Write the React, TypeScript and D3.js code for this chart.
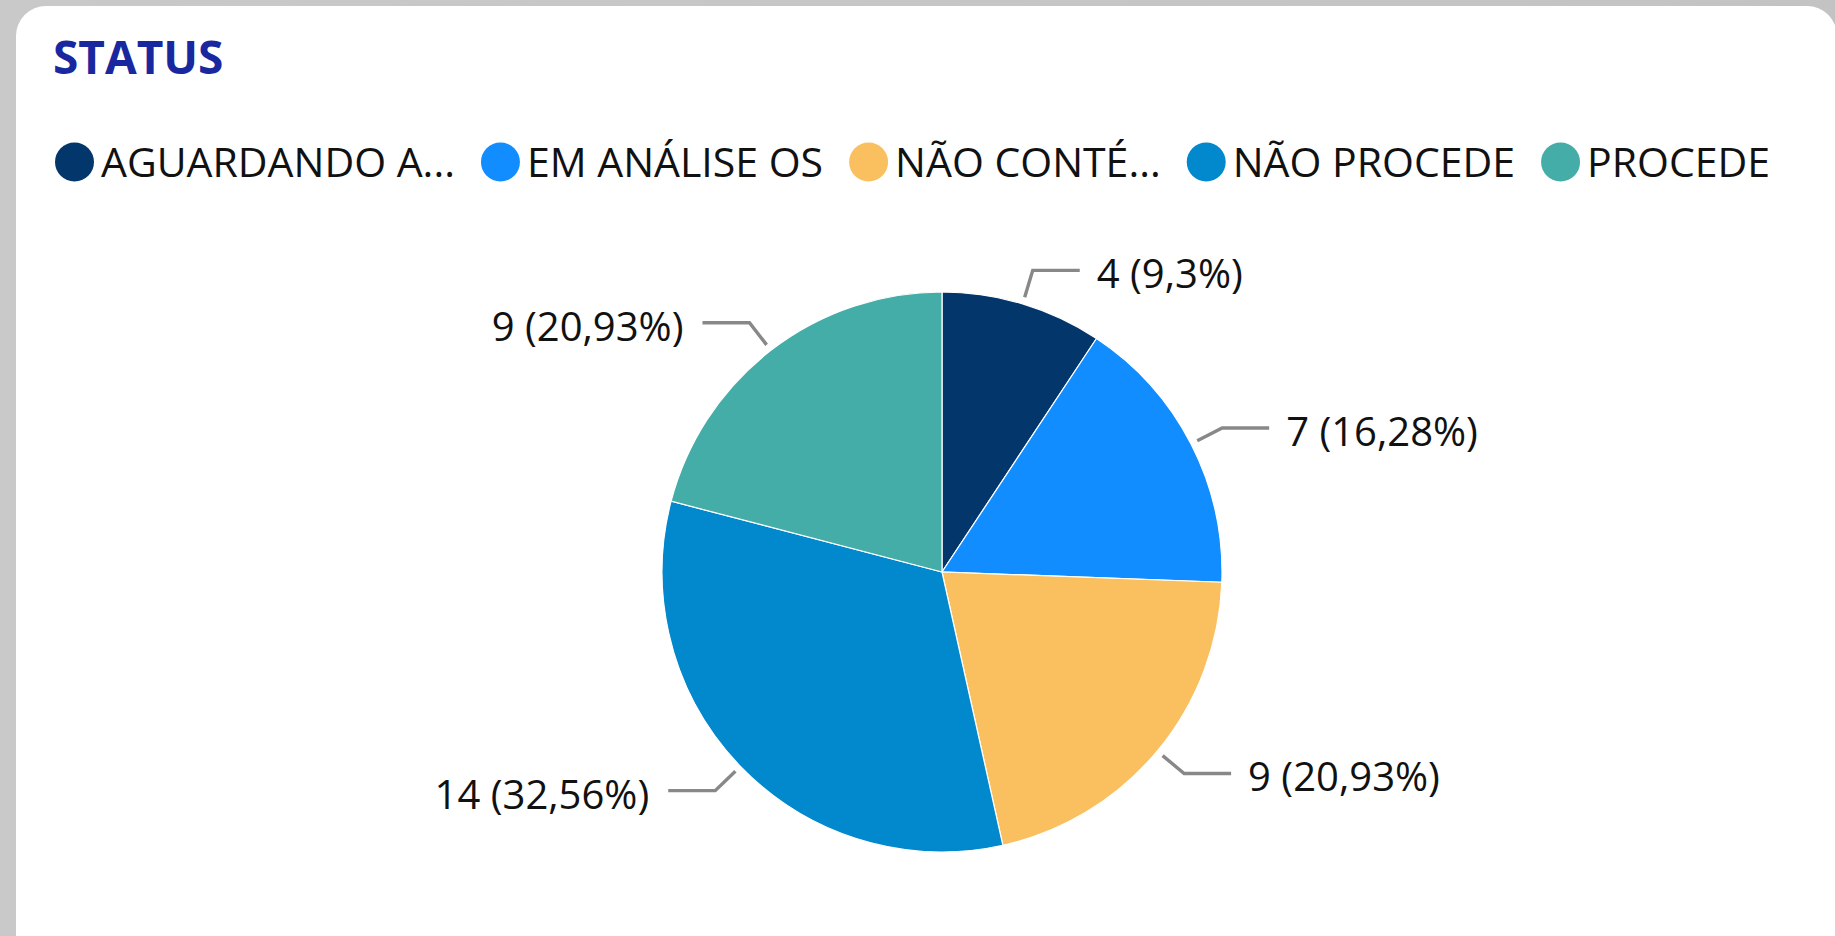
import React, { useEffect, useRef } from "react";
import * as d3 from "d3";

const W = 1835;
const H = 936;

const title = "STATUS";
const categories = ["AGUARDANDO A...", "EM ANÁLISE OS", "NÃO CONTÉ...", "NÃO PROCEDE", "PROCEDE"];
const values = [4, 7, 9, 14, 9];
const colors = ["#03366B", "#118DFF", "#FAC05F", "#0288CD", "#45ADA7"];

const FONT = "'Open Sans', 'Noto Sans', sans-serif";

export default function App() {
  const ref = useRef<SVGSVGElement | null>(null);

  useEffect(() => {
    const svg = d3.select(ref.current);
    svg.selectAll("*").remove();

    const defs = svg.append("defs");
    const g1 = defs.append("linearGradient").attr("id", "bgGrad").attr("x1", 0).attr("x2", 1).attr("y1", 0).attr("y2", 0);
    g1.append("stop").attr("offset", "0%").attr("stop-color", "#c9c9c9");
    g1.append("stop").attr("offset", "100%").attr("stop-color", "#c3c3c3");

    svg.append("rect").attr("x", 0).attr("y", 0).attr("width", W).attr("height", H).attr("fill", "url(#bgGrad)");
    svg.append("rect")
      .attr("x", 16).attr("y", 6)
      .attr("width", W - 16 + 2).attr("height", H + 30)
      .attr("rx", 30).attr("ry", 30)
      .attr("fill", "#ffffff");

    svg.append("text")
      .attr("x", 53).attr("y", 74)
      .attr("font-family", FONT).attr("font-weight", 700).attr("font-size", 46)
      .attr("fill", "#1A28A0")
      .text(title);

    // Legend
    const legend = svg.append("g");
    let lx = 55;
    const ly = 162;
    const r = 19.5;
    categories.forEach((c, i) => {
      legend.append("circle").attr("cx", lx + r).attr("cy", ly).attr("r", r).attr("fill", colors[i]);
      const t = legend.append("text")
        .attr("x", lx + 2 * r + 7).attr("y", ly + 15)
        .attr("font-family", FONT).attr("font-size", 41).attr("fill", "#111")
        .text(c);
      const w = (t.node() as SVGTextElement).getComputedTextLength();
      lx = lx + 2 * r + 7 + w + 26;
    });

    // Pie
    const cx = 942, cy = 572, R = 280;
    const pie = d3.pie<number>().sort(null).value((d) => d);
    const arcs = pie(values);
    const arc = d3.arc<d3.PieArcDatum<number>>().innerRadius(0).outerRadius(R);
    const total = d3.sum(values);
    const g = svg.append("g").attr("transform", `translate(${cx},${cy})`);
    g.selectAll("path.slice").data(arcs).enter().append("path")
      .attr("class", "slice")
      .attr("d", arc as any)
      .attr("fill", (_d, i) => colors[i])
      .attr("stroke", "#ffffff").attr("stroke-width", 1.2);

    const fmtPct = (v: number) => {
      let s = d3.format(".2f")((v / total) * 100);
      s = s.replace(/0+$/, "").replace(/\.$/, "");
      return s.replace(".", ",");
    };

    arcs.forEach((a, i) => {
      const mid = (a.startAngle + a.endAngle) / 2;
      const sx = Math.sin(mid), sy = -Math.cos(mid);
      const p0 = [sx * (R + 7), sy * (R + 7)];
      const p1 = [sx * (R + 35), sy * (R + 35)];
      const right = mid < Math.PI;
      const p2 = [p1[0] + (right ? 47 : -47), p1[1]];
      g.append("polyline")
        .attr("points", [p0, p1, p2].map((p) => p.join(",")).join(" "))
        .attr("fill", "none").attr("stroke", "#888888").attr("stroke-width", 3.4);
      g.append("text")
        .attr("x", p2[0] + (right ? 17 : -19)).attr("y", p2[1] + 18)
        .attr("text-anchor", right ? "start" : "end")
        .attr("font-family", FONT).attr("font-size", 40).attr("fill", "#111")
        .text(`${values[i]} (${fmtPct(values[i])}%)`);
    });
  }, []);

  return (
    <svg ref={ref} width={W} height={H} style={{ position: "fixed", left: 0, top: 0, display: "block" }} />
  );
}
